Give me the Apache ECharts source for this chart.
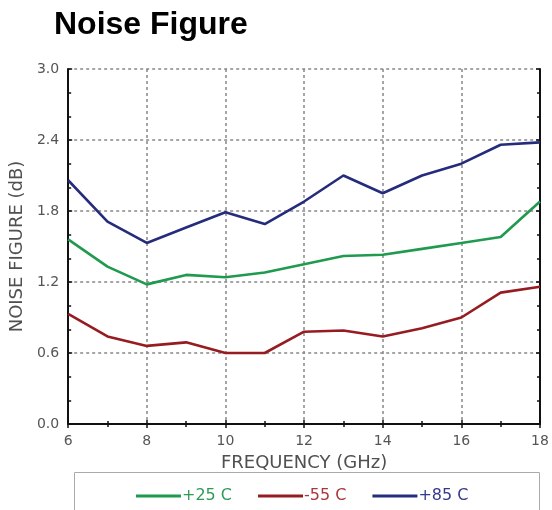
<!DOCTYPE html>
<html><head><meta charset="utf-8">
<script src="https://cdn.jsdelivr.net/npm/echarts@6/dist/echarts.min.js"></script>
<style>html,body{margin:0;padding:0;background:#fff}#c{width:552px;height:510px}</style>
</head><body><div id="c"></div>
<script>
const freq = [6,7,8,9,10,11,12,13,14,15,16,17,18];
const nf25 = [1.56,1.33,1.18,1.26,1.24,1.28,1.35,1.42,1.43,1.48,1.53,1.58,1.88];
const nfm55 = [0.93,0.74,0.66,0.69,0.60,0.60,0.78,0.79,0.74,0.81,0.90,1.11,1.16];
const nf85 = [2.06,1.71,1.53,1.66,1.79,1.69,1.88,2.10,1.95,2.10,2.20,2.36,2.38];
const seriesNames = ['+25 C','-55 C','+85 C'];
const colors = ['#1f9a4f','#961c22','#262c7c'];
const textColors = ['#2f9a58','#a8373c','#34398a'];

const pair = a => freq.map((f,i)=>[f,a[i]]);
const font = 'Arial, "Liberation Sans", sans-serif';
const font2 = '"DejaVu Sans", sans-serif';
const chart = echarts.init(document.getElementById('c'));
const axisLine = {show:true,lineStyle:{color:'#111',width:2}};
const axisTick = {show:true,inside:true,length:4,lineStyle:{color:'#111',width:1.5}};
const minorX = {show:true,splitNumber:2,length:3,lineStyle:{color:'#111',width:1.5}};
const minorY = {show:true,splitNumber:3,length:3,lineStyle:{color:'#111',width:1.5}};
const gridLine = {show:true,lineStyle:{color:'#888',type:[3,3],width:1.5}};
chart.setOption({
  animation:false,
  title:{text:'Noise Figure',left:49,top:4,textStyle:{fontFamily:font,fontWeight:'bold',fontSize:32,color:'#000'}},
  graphic:[{type:'rect',shape:{x:74.5,y:472.5,width:465,height:45},style:{fill:'none',stroke:'#aaa',lineWidth:1}}],
  legend:{
    data:seriesNames.map((n,i)=>({name:n,textStyle:{color:textColors[i]}})),
    left:131,top:483,itemWidth:45,itemHeight:3,itemGap:26,icon:'rect',
    textStyle:{fontFamily:font2,fontSize:16,padding:[0,0,0,-4]}
  },
  grid:{left:65,right:12,top:69,bottom:86},
  xAxis:[
    {type:'value',min:6,max:18,interval:2,
      name:'FREQUENCY (GHz)',nameLocation:'middle',nameGap:30,
      nameTextStyle:{fontFamily:font2,fontSize:18,color:'#505050'},
      axisLabel:{fontFamily:font2,fontSize:14,color:'#555',margin:10},
      axisLine,axisTick,minorTick:minorX,splitLine:gridLine},
    {type:'value',min:6,max:18,interval:2,position:'top',axisLabel:{show:false},splitLine:{show:false},
      axisLine,axisTick,minorTick:minorX}
  ],
  yAxis:[
    {type:'value',min:0,max:3,interval:0.6,
      name:'NOISE FIGURE (dB)',nameLocation:'middle',nameGap:37,
      nameTextStyle:{fontFamily:font2,fontSize:18,color:'#505050'},
      axisLabel:{fontFamily:font2,fontSize:14,color:'#555',margin:9,formatter:v=>v.toFixed(1)},
      axisLine,axisTick,minorTick:minorY,splitLine:gridLine},
    {type:'value',min:0,max:3,interval:0.6,position:'right',axisLabel:{show:false},splitLine:{show:false},
      axisLine,axisTick,minorTick:minorY}
  ],
  series:[
    {name:seriesNames[0],type:'line',data:pair(nf25),symbol:'none',lineStyle:{width:2.6,color:colors[0]},itemStyle:{color:colors[0]}},
    {name:seriesNames[1],type:'line',data:pair(nfm55),symbol:'none',lineStyle:{width:2.6,color:colors[1]},itemStyle:{color:colors[1]}},
    {name:seriesNames[2],type:'line',data:pair(nf85),symbol:'none',lineStyle:{width:2.6,color:colors[2]},itemStyle:{color:colors[2]}}
  ]
});
</script></body></html>
